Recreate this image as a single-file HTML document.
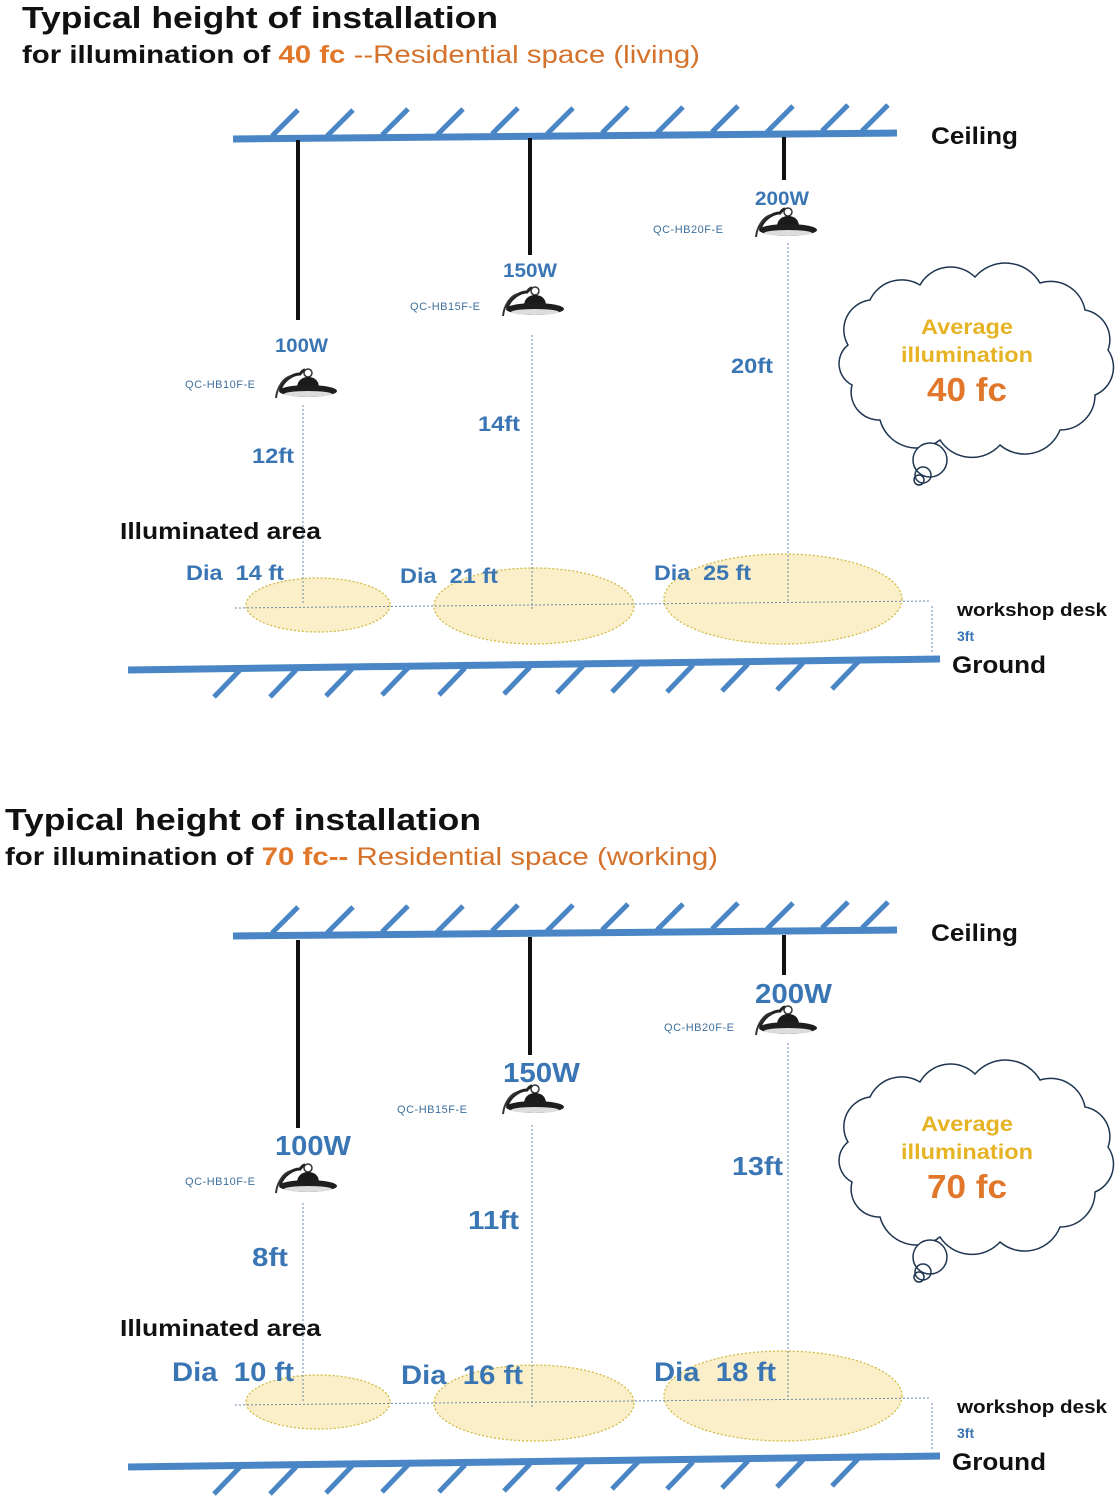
<!DOCTYPE html>
<html><head><meta charset="utf-8"><style>
html,body{margin:0;padding:0;background:#fff;}
svg{display:block;}
text{font-family:"Liberation Sans",Arial,sans-serif;}
.b{font-weight:bold;}
.bl{fill:#3b76b4;font-weight:bold;}
.qc{fill:#3f6f9c;font-size:11px;}
.blk{fill:#111;font-weight:bold;}
</style></head><body>
<svg width="1117" height="1500" viewBox="0 0 1117 1500" xmlns="http://www.w3.org/2000/svg">
<defs>
<g id="lamp">
  <path d="M-25 2 C-22 -8 -12 -14 -5 -14 C-2 -18 0 -18 0 -18" stroke="#222" stroke-width="3" fill="none"/>
  <path d="M-29 10 C-28 0 -22 -10 -14 -12" stroke="#333" stroke-width="2" fill="none"/>
  <circle cx="3" cy="-15" r="4" fill="none" stroke="#333" stroke-width="1.5"/>
  <path d="M-8 0 C-8 -8 -2 -11 3 -11 C9 -11 14 -8 14 0 Z" fill="#1a1a1a"/>
  <ellipse cx="3" cy="3" rx="29" ry="6" fill="#1e1e1e"/>
  <ellipse cx="3" cy="6" rx="24" ry="3" fill="#ddd"/>
</g>
<path id="cloud" d="M848 345 A30 30 0 0 1 870 300 A35 35 0 0 1 920 285 A35 35 0 0 1 975 277 A40 40 0 0 1 1040 283 A35 35 0 0 1 1085 310 A30 30 0 0 1 1108 350 A30 30 0 0 1 1095 395 A35 35 0 0 1 1060 430 A38 38 0 0 1 1000 445 A38 38 0 0 1 940 440 A38 38 0 0 1 880 420 A28 28 0 0 1 852 385 A24 24 0 0 1 848 345 Z" fill="#fff" stroke="#1f3550" stroke-width="1.5"/>
<g id="frame">
  <line x1="233" y1="139" x2="897" y2="133" stroke="#4a86c5" stroke-width="7"/>
  <g stroke="#4a86c5" stroke-width="5">
    <line x1="272" y1="136" x2="298" y2="110"/><line x1="327" y1="136" x2="353" y2="110"/>
    <line x1="382" y1="135" x2="408" y2="109"/><line x1="437" y1="135" x2="463" y2="109"/>
    <line x1="492" y1="134" x2="518" y2="108"/><line x1="547" y1="134" x2="573" y2="108"/>
    <line x1="602" y1="133" x2="628" y2="107"/><line x1="657" y1="133" x2="683" y2="107"/>
    <line x1="712" y1="132" x2="738" y2="106"/><line x1="767" y1="132" x2="793" y2="106"/>
    <line x1="822" y1="131" x2="848" y2="105"/><line x1="862" y1="131" x2="888" y2="105"/>
  </g>
  <line x1="128" y1="670" x2="940" y2="659" stroke="#4a86c5" stroke-width="7"/>
  <g stroke="#4a86c5" stroke-width="5">
    <line x1="240" y1="670" x2="214" y2="697"/><line x1="296" y1="670" x2="270" y2="697"/>
    <line x1="352" y1="669" x2="326" y2="696"/><line x1="408" y1="668" x2="382" y2="695"/>
    <line x1="465" y1="668" x2="439" y2="695"/><line x1="530" y1="667" x2="504" y2="694"/>
    <line x1="583" y1="666" x2="557" y2="693"/><line x1="638" y1="665" x2="612" y2="692"/>
    <line x1="693" y1="665" x2="667" y2="692"/><line x1="748" y1="664" x2="722" y2="691"/>
    <line x1="803" y1="663" x2="777" y2="690"/><line x1="858" y1="662" x2="832" y2="689"/>
  </g>
  <g fill="#fbefc9" stroke="#d2bb45" stroke-width="1.3" stroke-dasharray="2 2">
    <ellipse cx="318" cy="605" rx="72" ry="27"/>
    <ellipse cx="534" cy="606" rx="100" ry="38"/>
    <ellipse cx="783" cy="599" rx="119" ry="45"/>
  </g>
  <line x1="235" y1="608" x2="930" y2="601" stroke="#6a8aa8" stroke-width="1" stroke-dasharray="2 2"/>
  <line x1="932" y1="606" x2="932" y2="652" stroke="#6a8aa8" stroke-width="1" stroke-dasharray="2 2"/>
  <text x="931" y="144" class="blk" font-size="24" textLength="87" lengthAdjust="spacingAndGlyphs">Ceiling</text>
  <text x="952" y="673" class="blk" font-size="24" textLength="94" lengthAdjust="spacingAndGlyphs">Ground</text>
  <text x="957" y="616" class="blk" font-size="18" textLength="150" lengthAdjust="spacingAndGlyphs">workshop desk</text>
  <text x="957" y="641" class="bl" font-size="14">3ft</text>
  <text x="120" y="539" class="blk" font-size="23" textLength="201" lengthAdjust="spacingAndGlyphs">Illuminated area</text>
  <use href="#cloud"/>
  <circle cx="930" cy="460" r="17" fill="#fff" stroke="#1f3550" stroke-width="1.5"/>
  <circle cx="923" cy="475" r="8" fill="none" stroke="#1f3550" stroke-width="1.5"/>
  <circle cx="919" cy="480" r="5" fill="none" stroke="#1f3550" stroke-width="1.5"/>
  <text x="921" y="334" class="b" font-size="21" fill="#e6b324" textLength="92" lengthAdjust="spacingAndGlyphs">Average</text>
  <text x="901" y="362" class="b" font-size="21" fill="#e6b324" textLength="132" lengthAdjust="spacingAndGlyphs">illumination</text>
</g>
</defs>

<!-- Panel 1 -->
<text x="22" y="28" class="blk" font-size="31" textLength="476" lengthAdjust="spacingAndGlyphs">Typical height of installation</text>
<text x="22" y="63" font-size="25" textLength="678" lengthAdjust="spacingAndGlyphs"><tspan class="blk">for illumination of </tspan><tspan class="b" fill="#e0772a">40 fc</tspan><tspan fill="#d4712a"> --Residential space (living)</tspan></text>
<use href="#frame"/>
<g stroke="#111" stroke-width="4">
  <line x1="298" y1="140" x2="298" y2="320"/><line x1="530" y1="138" x2="530" y2="255"/><line x1="784" y1="137" x2="784" y2="180"/>
</g>
<g stroke="#6a8aa8" stroke-width="1" stroke-dasharray="2 2">
  <line x1="303" y1="405" x2="303" y2="605"/><line x1="532" y1="335" x2="532" y2="610"/><line x1="788" y1="243" x2="788" y2="602"/>
</g>
<use href="#lamp" x="305" y="388"/><use href="#lamp" x="532" y="306"/><use href="#lamp" x="785" y="227"/>
<text x="275" y="352" class="bl" font-size="19" textLength="53" lengthAdjust="spacingAndGlyphs">100W</text>
<text x="503" y="277" class="bl" font-size="19" textLength="54" lengthAdjust="spacingAndGlyphs">150W</text>
<text x="755" y="205" class="bl" font-size="19" textLength="54" lengthAdjust="spacingAndGlyphs">200W</text>
<text x="185" y="388" class="qc" textLength="70">QC-HB10F-E</text>
<text x="410" y="310" class="qc" textLength="70">QC-HB15F-E</text>
<text x="653" y="233" class="qc" textLength="70">QC-HB20F-E</text>
<text x="252" y="463" class="bl" font-size="21" textLength="42" lengthAdjust="spacingAndGlyphs">12ft</text>
<text x="478" y="431" class="bl" font-size="21" textLength="42" lengthAdjust="spacingAndGlyphs">14ft</text>
<text x="731" y="373" class="bl" font-size="21" textLength="42" lengthAdjust="spacingAndGlyphs">20ft</text>
<text x="186" y="580" class="bl" font-size="21" textLength="98" lengthAdjust="spacingAndGlyphs">Dia&#160; 14 ft</text>
<text x="400" y="583" class="bl" font-size="21" textLength="98" lengthAdjust="spacingAndGlyphs">Dia&#160; 21 ft</text>
<text x="654" y="580" class="bl" font-size="21" textLength="97" lengthAdjust="spacingAndGlyphs">Dia&#160; 25 ft</text>
<text x="927" y="401" class="b" font-size="33" fill="#e0772a" textLength="80" lengthAdjust="spacingAndGlyphs">40 fc</text>

<!-- Panel 2 -->
<text x="5" y="830" class="blk" font-size="31" textLength="476" lengthAdjust="spacingAndGlyphs">Typical height of installation</text>
<text x="5" y="865" font-size="25" textLength="713" lengthAdjust="spacingAndGlyphs"><tspan class="blk">for illumination of </tspan><tspan class="b" fill="#e0772a">70 fc--</tspan><tspan fill="#d4712a"> Residential space (working)</tspan></text>
<g transform="translate(0,797)">
<use href="#frame"/>
<text x="927" y="401" class="b" font-size="33" fill="#e0772a" textLength="80" lengthAdjust="spacingAndGlyphs">70 fc</text>
</g>
<g stroke="#111" stroke-width="4">
  <line x1="298" y1="940" x2="298" y2="1128"/><line x1="530" y1="937" x2="530" y2="1055"/><line x1="784" y1="935" x2="784" y2="975"/>
</g>
<g stroke="#6a8aa8" stroke-width="1" stroke-dasharray="2 2">
  <line x1="303" y1="1203" x2="303" y2="1402"/><line x1="532" y1="1125" x2="532" y2="1407"/><line x1="788" y1="1043" x2="788" y2="1399"/>
</g>
<use href="#lamp" x="305" y="1183"/><use href="#lamp" x="532" y="1104"/><use href="#lamp" x="785" y="1025"/>
<text x="275" y="1155" class="bl" font-size="28" textLength="76" lengthAdjust="spacingAndGlyphs">100W</text>
<text x="503" y="1082" class="bl" font-size="28" textLength="77" lengthAdjust="spacingAndGlyphs">150W</text>
<text x="755" y="1003" class="bl" font-size="28" textLength="77" lengthAdjust="spacingAndGlyphs">200W</text>
<text x="185" y="1185" class="qc" textLength="70">QC-HB10F-E</text>
<text x="397" y="1113" class="qc" textLength="70">QC-HB15F-E</text>
<text x="664" y="1031" class="qc" textLength="70">QC-HB20F-E</text>
<text x="252" y="1266" class="bl" font-size="26" textLength="36" lengthAdjust="spacingAndGlyphs">8ft</text>
<text x="468" y="1229" class="bl" font-size="26" textLength="51" lengthAdjust="spacingAndGlyphs">11ft</text>
<text x="732" y="1175" class="bl" font-size="26" textLength="51" lengthAdjust="spacingAndGlyphs">13ft</text>
<text x="172" y="1381" class="bl" font-size="27" textLength="122" lengthAdjust="spacingAndGlyphs">Dia&#160; 10 ft</text>
<text x="401" y="1384" class="bl" font-size="27" textLength="122" lengthAdjust="spacingAndGlyphs">Dia&#160; 16 ft</text>
<text x="654" y="1381" class="bl" font-size="27" textLength="122" lengthAdjust="spacingAndGlyphs">Dia&#160; 18 ft</text>
</svg>
</body></html>
